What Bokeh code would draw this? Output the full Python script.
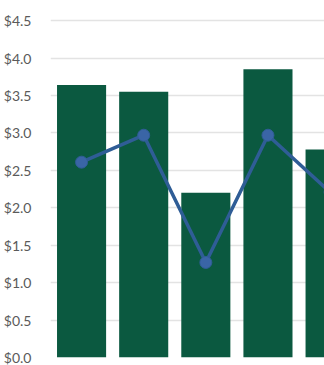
from bokeh.plotting import figure
from bokeh.models import Range1d, SingleIntervalTicker, NumeralTickFormatter, ColumnDataSource
from bokeh.embed import file_html
from bokeh.resources import INLINE

categories = [1, 2, 3, 4, 5]
bar_values = [3.64, 3.55, 2.20, 3.85, 2.78]
line_values = [2.61, 2.97, 1.27, 2.97, 2.21]

src = ColumnDataSource(dict(x=categories, bar=bar_values, line=line_values))

p = figure(width=324, height=365, output_backend="svg", toolbar_location=None,
           x_range=Range1d(0.5, 4.91), y_range=Range1d(0, 4.77),
           min_border_left=50, min_border_right=0, min_border_top=0, min_border_bottom=8)
p.outline_line_color = None
p.background_fill_color = "white"
p.border_fill_color = "white"

p.xaxis.visible = False
p.xgrid.visible = False

p.yaxis.ticker = SingleIntervalTicker(interval=0.5)
p.yaxis.formatter = NumeralTickFormatter(format="$0.0")
p.yaxis.axis_line_color = None
p.yaxis.major_tick_line_color = None
p.yaxis.minor_tick_line_color = None
p.yaxis.major_tick_out = 0
p.yaxis.major_label_standoff = 15
p.yaxis.major_label_text_font = "Lato"
p.yaxis.major_label_text_font_size = "14px"
p.yaxis.major_label_text_color = "#5a5a5a"

p.ygrid.ticker = SingleIntervalTicker(interval=0.5)
p.ygrid.grid_line_color = "#e3e3e3"
p.ygrid.grid_line_width = 1.5

p.vbar(x="x", top="bar", width=0.79, bottom=0, source=src,
       fill_color="#0b5940", line_color=None)
p.line(x="x", y="line", source=src, line_color="#2f5d96", line_width=3.5)
p.scatter(x="x", y="line", source=src, size=12, fill_color="#3a65a6",
          line_color="#2f5d96", line_width=1)

open("out.html", "w").write(file_html(p, INLINE))
